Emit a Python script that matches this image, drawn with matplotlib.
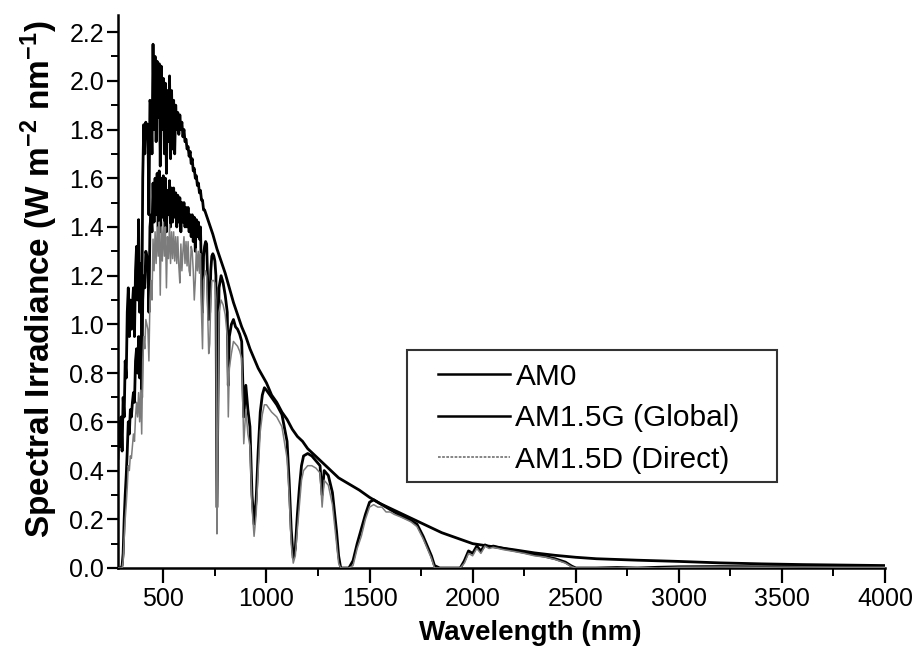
import matplotlib
matplotlib.use("Agg")
import matplotlib.pyplot as plt
from matplotlib.lines import Line2D
from matplotlib.patches import Rectangle
from matplotlib.ticker import MultipleLocator, FormatStrFormatter

plt.rcParams['font.family'] = ['Liberation Sans', 'DejaVu Sans']
plt.rcParams['mathtext.fontset'] = 'custom'
plt.rcParams['mathtext.rm'] = 'Liberation Sans'
plt.rcParams['mathtext.bf'] = 'Liberation Sans:bold'

# ---------------- data ----------------
series_labels = ["AM0", "AM1.5G (Global)", "AM1.5D (Direct)"]

wl_am0 = [280, 285, 290, 295, 300, 305, 310, 315, 320, 325, 330, 335, 340, 345, 350,
          355, 360, 365, 370, 375, 380, 385, 390, 395, 400, 405, 410, 415, 420, 425,
          430, 435, 440, 445, 450, 455, 460, 465, 470, 475, 480, 485, 490, 495, 500,
          505, 510, 515, 520, 525, 530, 535, 540, 545, 550, 555, 560, 565, 570, 575,
          580, 585, 590, 595, 600, 605, 610, 615, 620, 625, 630, 635, 640, 645, 650,
          655, 660, 665, 670, 675, 680, 685, 690, 695, 700,
          720, 740, 760, 780, 800, 820, 840, 860, 880, 900, 920, 940, 960, 980, 1000,
          1025, 1050, 1075, 1100, 1125, 1150, 1175, 1200,
          1250, 1300, 1350, 1400, 1450, 1500, 1550, 1600, 1650, 1700, 1750, 1800, 1850,
          1900, 1950, 2000,
          2100, 2200, 2300, 2400, 2500, 2600,
          2800, 3000, 3200, 3400, 3600, 3800, 4000]
am0 = [0.45, 0.60, 0.50, 0.62, 0.48, 0.70, 0.62, 0.85, 0.78, 1.05, 1.15, 0.95, 1.10, 0.98, 1.08,
       1.15, 0.95, 1.22, 1.32, 1.10, 1.43, 1.05, 1.25, 0.95, 1.60, 1.82, 1.70, 1.83, 1.78, 1.82,
       1.45, 1.92, 1.90, 1.70, 2.15, 1.80, 2.10, 1.75, 2.08, 1.85, 2.07, 1.65, 2.06, 1.80, 2.01,
       1.70, 1.99, 1.62, 1.96, 1.75, 2.02, 1.68, 1.96, 1.72, 1.92, 1.70, 1.90, 1.80, 1.87, 1.78,
       1.86, 1.80, 1.83, 1.77, 1.80, 1.75, 1.76, 1.72, 1.73, 1.69, 1.71, 1.66, 1.68, 1.63, 1.64,
       1.60, 1.61, 1.57, 1.58, 1.54, 1.55, 1.51, 1.51, 1.47, 1.47,
       1.42, 1.37, 1.31, 1.26, 1.21, 1.15, 1.09, 1.04, 0.99, 0.95, 0.90, 0.86, 0.82, 0.79, 0.76,
       0.71, 0.68, 0.64, 0.61, 0.57, 0.54, 0.52, 0.49,
       0.45, 0.41, 0.37, 0.345, 0.32, 0.29, 0.265, 0.245, 0.225, 0.205, 0.185, 0.165, 0.145,
       0.13, 0.115, 0.10,
       0.087, 0.075, 0.062, 0.052, 0.044, 0.038,
       0.032, 0.027, 0.021, 0.017, 0.014, 0.012, 0.010]

wl_ground = [280, 285, 290, 295, 300, 305, 310, 315, 320, 325, 330, 335, 340, 345, 350,
             355, 360, 365, 370, 375, 380, 385, 390, 395, 400, 405, 410, 415, 420, 425,
             430, 435, 440, 445, 450, 455, 460, 465, 470, 475, 480, 485, 490, 495, 500,
             505, 510, 515, 520, 525, 530, 535, 540, 545, 550, 555, 560, 565, 570, 575,
             580, 585, 590, 595, 600, 605, 610, 615, 620, 625, 630, 635, 640, 645, 650,
             655, 660, 665, 670, 675, 680, 685, 690, 695, 700, 705, 710, 715, 720, 725,
             730, 735, 740, 745, 750, 755, 760,
             765, 770, 780, 790, 800, 810, 815, 820, 830, 840, 850, 860, 870, 880, 890,
             900, 910, 920, 930, 940, 950, 960, 970, 980, 990, 1000,
             1025, 1050, 1075, 1100, 1110, 1120, 1130, 1140, 1150, 1160, 1170, 1180, 1200,
             1220, 1240, 1260, 1270, 1280, 1300, 1320, 1340, 1350, 1360, 1380, 1400,
             1420, 1440, 1460, 1480, 1500, 1520, 1540, 1560, 1580, 1600, 1620, 1650, 1700,
             1730, 1760, 1780, 1800, 1815, 1840, 1860, 1900, 1940, 1960, 1980, 2000,
             2020, 2040, 2060, 2080, 2100, 2150, 2200, 2250, 2300, 2350, 2400, 2450, 2480, 2500,
             2600, 2700, 2800, 2900, 3000, 3200, 3400, 3600, 3800, 4000]

am15g = [0.0, 0.0, 0.0, 0.0, 0.01, 0.06, 0.20, 0.30, 0.38, 0.48, 0.60, 0.55, 0.65, 0.62, 0.68,
         0.72, 0.68, 0.85, 0.90, 0.80, 0.95, 0.78, 0.95, 0.70, 1.10, 1.20, 1.15, 1.30, 1.28, 1.25,
         1.05, 1.40, 1.45, 1.38, 1.58, 1.42, 1.60, 1.45, 1.62, 1.40, 1.63, 1.38, 1.60, 1.44, 1.61,
         1.40, 1.60, 1.38, 1.55, 1.45, 1.59, 1.40, 1.56, 1.42, 1.56, 1.44, 1.54, 1.40, 1.53, 1.42,
         1.52, 1.38, 1.50, 1.42, 1.50, 1.40, 1.48, 1.40, 1.48, 1.38, 1.45, 1.36, 1.45, 1.34, 1.44,
         1.30, 1.43, 1.36, 1.42, 1.35, 1.40, 1.20, 1.05, 1.28, 1.32, 1.34, 1.33, 1.18, 1.02, 1.05,
         1.22, 1.28, 1.29, 1.28, 1.26, 1.20, 0.25,
         0.70, 1.15, 1.20, 1.17, 1.12, 1.05, 0.75, 0.95, 1.00, 1.02, 0.99, 0.98, 0.96, 0.93, 0.62,
         0.75, 0.65, 0.58, 0.30, 0.18, 0.28, 0.48, 0.64, 0.71, 0.74, 0.73,
         0.70, 0.67, 0.63, 0.52, 0.36, 0.16, 0.04, 0.08, 0.22, 0.33, 0.42, 0.46, 0.47,
         0.46, 0.44, 0.42, 0.30, 0.40, 0.38, 0.31, 0.15, 0.05, 0.0, 0.0, 0.0,
         0.03, 0.10, 0.16, 0.22, 0.27, 0.28, 0.27, 0.26, 0.25, 0.24, 0.23, 0.215, 0.195,
         0.18, 0.13, 0.09, 0.05, 0.01, 0.0, 0.0, 0.0, 0.0, 0.03, 0.07, 0.06,
         0.09, 0.07, 0.095, 0.085, 0.09, 0.08, 0.072, 0.064, 0.055, 0.048, 0.038, 0.024, 0.008, 0.0,
         0.0, 0.002, 0.0, 0.003, 0.005, 0.006, 0.005, 0.006, 0.005, 0.004]

am15d = [0.0, 0.0, 0.0, 0.0, 0.0, 0.03, 0.12, 0.20, 0.26, 0.33, 0.42, 0.40, 0.46, 0.45, 0.50,
         0.55, 0.52, 0.62, 0.68, 0.62, 0.72, 0.60, 0.73, 0.55, 0.85, 0.95, 0.90, 1.02, 1.00, 0.98,
         0.85, 1.10, 1.18, 1.10, 1.35, 1.22, 1.38, 1.25, 1.40, 1.28, 1.42, 1.12, 1.40, 1.26, 1.42,
         1.28, 1.40, 1.15, 1.36, 1.27, 1.41, 1.25, 1.38, 1.27, 1.38, 1.26, 1.36, 1.25, 1.36, 1.24,
         1.17, 1.33, 1.22, 1.30, 1.36, 1.25, 1.34, 1.24, 1.34, 1.22, 1.20, 1.32, 1.30, 1.22, 1.10,
         1.18, 1.31, 1.22, 1.30, 1.21, 1.29, 1.05, 0.90, 1.18, 1.20, 1.22, 1.20, 1.05, 0.88, 0.92,
         1.10, 1.18, 1.18, 1.18, 1.17, 1.10, 0.14,
         0.55, 1.05, 1.10, 1.08, 1.04, 0.95, 0.62, 0.82, 0.88, 0.93, 0.92, 0.91, 0.89, 0.86, 0.51,
         0.65, 0.55, 0.50, 0.25, 0.13, 0.22, 0.40, 0.56, 0.63, 0.67, 0.67,
         0.64, 0.62, 0.58, 0.45, 0.30, 0.10, 0.02, 0.05, 0.16, 0.26, 0.36, 0.40, 0.42,
         0.42, 0.41, 0.39, 0.25, 0.36, 0.34, 0.26, 0.10, 0.02, 0.0, 0.0, 0.0,
         0.01, 0.08, 0.13, 0.20, 0.25, 0.26, 0.25, 0.25, 0.23, 0.23, 0.22, 0.21, 0.19,
         0.17, 0.12, 0.08, 0.04, 0.0, 0.0, 0.0, 0.0, 0.0, 0.02, 0.06, 0.05,
         0.08, 0.06, 0.09, 0.08, 0.085, 0.075, 0.068, 0.06, 0.05, 0.045, 0.035, 0.02, 0.005, 0.0,
         0.0, 0.0, 0.002, 0.0, 0.003, 0.004, 0.003, 0.004, 0.003, 0.003]

x_major = [500, 1000, 1500, 2000, 2500, 3000, 3500, 4000]
y_major = [0.0, 0.2, 0.4, 0.6, 0.8, 1.0, 1.2, 1.4, 1.6, 1.8, 2.0, 2.2]

assert len(wl_am0) == len(am0)
assert len(wl_ground) == len(am15g) == len(am15d)

# ---------------- figure ----------------
fig = plt.figure(figsize=(9.16, 6.61), dpi=100)
ax = fig.add_axes([0.1288, 0.1407, 0.8374, 0.8366])

gray = '#7c7c7c'
ax.plot(wl_am0, am0, color='black', lw=2.0, zorder=3)
ax.plot(wl_ground, am15g, color='black', lw=2.0, zorder=2)
ax.plot(wl_ground, am15d, color=gray, lw=1.1, zorder=4)

ax.set_xlim(280, 4000)
ax.set_ylim(0, 2.27)

for s in ['top', 'right']:
    ax.spines[s].set_visible(False)
for s in ['left', 'bottom']:
    ax.spines[s].set_linewidth(1.8)

ax.set_xticks(x_major)
ax.xaxis.set_minor_locator(MultipleLocator(250))
ax.set_yticks(y_major)
ax.yaxis.set_minor_locator(MultipleLocator(0.1))
ax.yaxis.set_major_formatter(FormatStrFormatter('%.1f'))

ax.tick_params(axis='x', which='major', direction='out', length=11, width=1.6,
               labelsize=18, pad=3)
ax.tick_params(axis='x', which='minor', direction='out', length=6, width=1.4)
ax.tick_params(axis='y', which='major', direction='out', length=8, width=1.6,
               labelsize=18, pad=2)
ax.tick_params(axis='y', which='minor', direction='out', length=5, width=1.4)

ax.set_xlabel('Wavelength (nm)', fontsize=20, fontweight='bold')
ax.xaxis.set_label_coords(0.537, -0.094)
ax.set_ylabel(r'Spectral Irradiance (W m$\mathbf{^{-2}}$ nm$\mathbf{^{-1}}$)',
              fontsize=24, fontweight='bold')
ax.yaxis.set_label_coords(-0.075, 0.522)

handles = [Line2D([], [], color='black', lw=1.8),
           Line2D([], [], color='black', lw=1.8),
           Line2D([], [], color=gray, lw=1.3, ls=(0, (1.5, 0.8)))]
ax.legend(handles, series_labels, loc='upper left', bbox_to_anchor=(0.417, 0.371),
          frameon=False, fontsize=21.5, borderpad=0, borderaxespad=0,
          handlelength=2.4, handletextpad=0.2, labelspacing=0.45)
ax.add_patch(Rectangle((0.377, 0.156), 0.482, 0.238, transform=ax.transAxes,
                       fill=False, edgecolor='#333333', lw=1.5, zorder=5))

fig.savefig('out.png', dpi=100)
